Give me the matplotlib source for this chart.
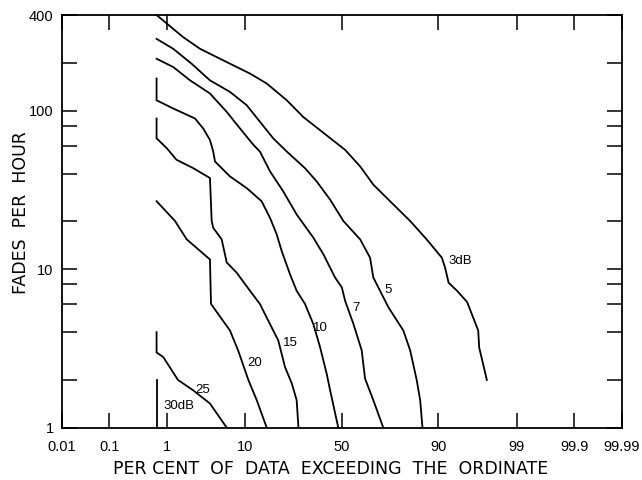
'''fades per hour vs per cent of data exceeding the ordinate, normal probability x axis'''
from statistics import NormalDist
import numpy as np
from matplotlib import pyplot as plt

# curves: per cent of data exceeding, fades per hour
pct_3 = [0.69, 1.75, 2.97, 6.3, 11.1, 15.9, 23.2, 30.4, 43.8, 51.7, 59.6, 66.2, 73.9,
         81.8, 87.0, 90.8, 91.5, 92.2, 93.7, 95.2, 96.5, 96.6, 97.3]
fph_3 = [400, 290, 245, 202, 171, 148, 116, 91, 67, 56.5, 44.4, 34.1, 26.8,
         20.1, 15.4, 11.8, 10.2, 8.2, 7.3, 6.2, 4.1, 3.2, 2.0]
pct_5 = [0.69, 1.25, 2.3, 3.98, 6.85, 10.3, 13.8, 18.1, 23.2, 31.2, 36.9, 43.8, 50.8,
         59.6, 64.6, 66.2, 69.4, 73.2, 79.3, 81.8, 84.0, 85.1, 85.8]
fph_5 = [283, 245, 197, 155, 131, 108, 85, 66.7, 55.1, 43.3, 35.7, 27.4, 20.1,
         15.4, 11.8, 8.85, 7.3, 5.74, 4.1, 3.07, 2.0, 1.49, 1.0]
pct_7 = [0.69, 1.25, 2.18, 3.98, 6.3, 8.8, 12.0, 13.8, 17.0, 21.8, 27.4, 35.2, 40.3,
         43.8, 46.4, 50.0, 51.7, 56.1, 60.4, 62.1, 66.2, 70.9]
fph_7 = [212, 188, 155, 128, 98, 77, 60.7, 55.1, 41.3, 30.9, 22.1, 15.8, 12.4,
         10.2, 8.85, 7.66, 6.32, 4.51, 3.07, 2.04, 1.49, 1.0]
pct_10 = [0.69, 0.69, 1.25, 2.55, 3.27, 3.98, 4.37, 4.59, 6.85, 10.3, 14.3, 17.0, 19.3,
          21.2, 24.5, 27.4, 31.2, 35.2, 38.6, 42.0, 43.8, 48.1]
fph_10 = [159, 116, 103, 89, 77, 65.2, 55.1, 47.7, 38.4, 32.4, 26.8, 21.0, 16.6,
          13.0, 9.3, 7.3, 6.03, 4.51, 3.22, 2.19, 1.72, 1.0]
pct_15 = [0.69, 0.69, 1.0, 1.4, 2.41, 3.98, 4.18, 4.37, 5.51, 6.3, 8.1, 11.1, 13.8,
          16.4, 19.9, 22.5, 25.3, 27.4, 28.2]
fph_15 = [89, 66.8, 57.8, 48.9, 43.3, 37.5, 20.1, 18.2, 15.4, 11.0, 9.5, 7.3, 6.03,
          4.73, 3.55, 2.41, 1.9, 1.49, 1.0]
pct_20 = [0.69, 1.33, 1.96, 3.98, 4.1, 6.85, 8.4, 10.7, 12.9, 15.9]
fph_20 = [26.8, 20.1, 15.4, 11.5, 6.03, 4.1, 3.07, 2.0, 1.49, 1.0]
pct_25 = [0.69, 0.69, 0.88, 1.47, 2.41, 3.98, 6.3]
fph_25 = [4.0, 2.98, 2.79, 2.0, 1.72, 1.42, 1.0]
pct_30 = [0.69, 0.69]
fph_30 = [2.0, 1.0]

curves = [(pct_3, fph_3), (pct_5, fph_5), (pct_7, fph_7), (pct_10, fph_10),
          (pct_15, fph_15), (pct_20, fph_20), (pct_25, fph_25), (pct_30, fph_30)]
# curve labels and where they sit (per cent, fades per hour)
label_text = ['3dB', '5', '7', '10', '15', '20', '25', '30dB']
label_pct = [92.1, 73.0, 57.7, 38.6, 24.5, 12.4, 3.2, 0.88]
label_fph = [11.2, 7.4, 5.7, 4.28, 3.4, 2.55, 1.72, 1.37]

x_ticks = [0.01, 0.1, 1, 10, 50, 90, 99, 99.9, 99.99]
x_ticklabels = ['0.01', '0.1', '1', '10', '50', '90', '99', '99.9', '99.99']
y_ticks = [2, 4, 6, 8, 10, 20, 40, 60, 80, 100, 200]
y_labelled = [1, 10, 100, 400]

nd = NormalDist()
_ppf = np.vectorize(lambda p: nd.inv_cdf(p), otypes=[float])
_cdf = np.vectorize(lambda z: nd.cdf(z), otypes=[float])

def fwd(p):
    p = np.clip(np.asarray(p, dtype=float) / 100, 1e-9, 1 - 1e-9)
    return _ppf(p)

def inv(z):
    return _cdf(np.asarray(z, dtype=float)) * 100

narrow = 'Liberation Sans'

fig = plt.figure(figsize=(6.42, 4.80), dpi=100)
ax = fig.add_axes([0.0966, 0.109, 0.8718, 0.8597])
ax.set_xscale('function', functions=(fwd, inv))
ax.set_yscale('log')
ax.set_xlim(0.01, 99.99)
ax.set_ylim(1, 400)

for x, y in curves:
    ax.plot(x, y, color='black', lw=1.3, solid_joinstyle='miter')

for txt, x, y in zip(label_text, label_pct, label_fph):
    ha = 'left' if txt in ('3dB', '30dB') else 'center'
    ax.text(x, y, txt, ha=ha, va='center', fontsize=9.5, family=narrow)

# ticks drawn inward on all four sides, labels only at bottom and left
ax.xaxis.set_minor_locator(plt.NullLocator())
ax.yaxis.set_minor_locator(plt.FixedLocator(y_ticks))
ax.yaxis.set_minor_formatter(plt.NullFormatter())
ax.set_xticks(x_ticks, x_ticklabels, family=narrow, fontsize=10.5)
ax.set_yticks(y_labelled, [str(v) for v in y_labelled], family=narrow, fontsize=10.5)
ax.tick_params(which='both', direction='in', length=11, width=1.1,
               top=True, right=True, color='black')
ax.tick_params(axis='x', pad=9)
ax.tick_params(axis='y', pad=6)
for s in ax.spines.values():
    s.set_linewidth(1.3)

# axis titles placed on the figure so they sit where the reference has them
fig.text(331 / 642, 6 / 480, 'PER CENT  OF  DATA  EXCEEDING  THE  ORDINATE',
         ha='center', va='baseline', fontsize=12.5)
fig.text(12 / 642, (480 - 213) / 480, 'FADES  PER  HOUR', rotation=90,
         ha='left', va='center', fontsize=12.5)

fig.savefig('out.png', dpi=100)
